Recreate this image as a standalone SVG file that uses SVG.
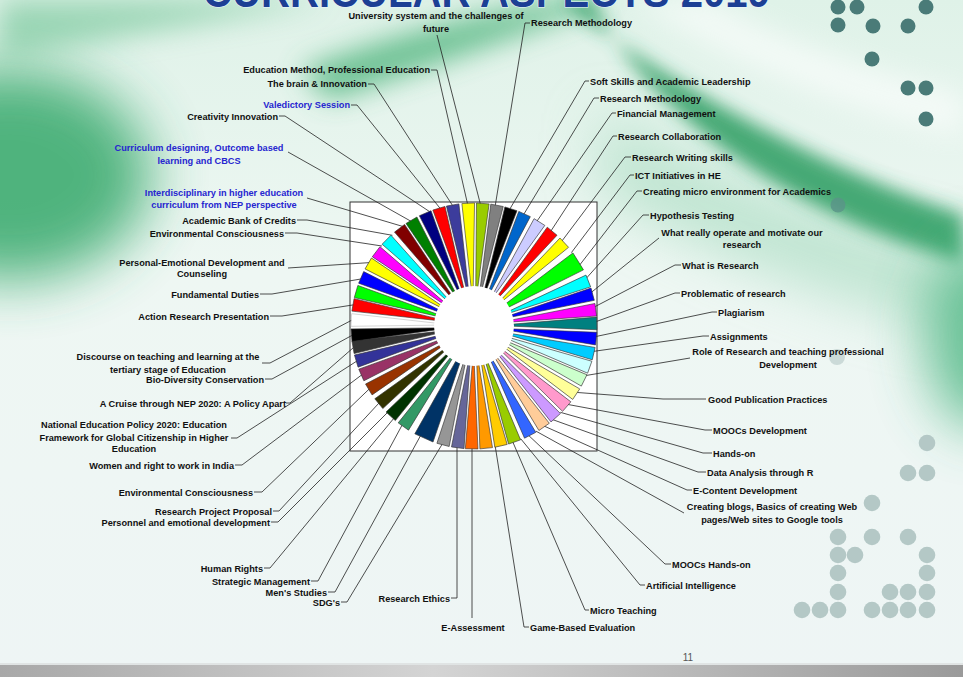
<svg xmlns="http://www.w3.org/2000/svg" xmlns:xlink="http://www.w3.org/1999/xlink" width="963" height="677" viewBox="0 0 963 677">
<style>
.t{font-family:"Liberation Sans",Arial,sans-serif;font-size:9.2px;font-weight:bold;fill:#111}
.b{fill:#2626d0}
.e{text-anchor:end}
.m{text-anchor:middle}
.dk{fill:#4a7b78}
.lt{fill:#b4c8c6}
#slices use{stroke:#333;stroke-width:0.6}
#connectors path{fill:none;stroke:#222;stroke-width:0.8}
</style>
<defs>
<linearGradient id="bg" x1="0" y1="0" x2="0" y2="1">
<stop offset="0" stop-color="#dff2e8"/>
<stop offset="0.4" stop-color="#eef7f3"/>
<stop offset="1" stop-color="#eef5f5"/>
</linearGradient>
<linearGradient id="bar" x1="0" y1="0" x2="1" y2="0">
<stop offset="0" stop-color="#a8a8a8"/>
<stop offset="0.45" stop-color="#d4d4d4"/>
<stop offset="1" stop-color="#9a9a9a"/>
</linearGradient>
<filter id="f1" x="-50%" y="-50%" width="200%" height="200%"><feGaussianBlur stdDeviation="28"/></filter>
<filter id="f2" x="-30%" y="-30%" width="160%" height="160%"><feGaussianBlur stdDeviation="9"/></filter>
<filter id="f3" x="-30%" y="-30%" width="160%" height="160%"><feGaussianBlur stdDeviation="14"/></filter>
<path id="w" d="M0,-22.3 L-6.33,-122.85 L6.33,-122.85 Z"/>
<path id="W" d="M0,-15.2 L-9.97,-122.6 L9.97,-122.6 Z"/>
</defs>

<g id="background">
<rect width="963" height="677" fill="url(#bg)"/>
<ellipse cx="10" cy="175" rx="140" ry="105" fill="#35a86a" opacity="0.85" filter="url(#f1)"/>
<path d="M0,0 L330,0 C220,20 100,40 0,60 Z" fill="#7fcaa0" opacity="0.7" filter="url(#f3)"/>
<path d="M300,70 C380,40 470,15 560,0 L610,0 C520,35 420,70 330,100 Z" fill="#4db47c" opacity="0.8" filter="url(#f3)"/>
<path d="M600,110 C700,170 820,220 963,250 L963,330 C820,300 700,250 600,190 Z" fill="#9fd8ba" opacity="0.6" filter="url(#f1)"/>
<path d="M560,0 C650,70 800,160 963,215 L963,262 C790,215 645,112 592,0 Z" fill="#2a9c60" opacity="0.85" filter="url(#f2)"/>
<path d="M630,0 C725,60 850,110 963,135 L963,95 C860,70 765,35 710,0 Z" fill="#ffffff" opacity="0.6" filter="url(#f3)"/>
<ellipse cx="985" cy="335" rx="60" ry="95" fill="#3db078" opacity="0.75" filter="url(#f1)"/>
<rect x="0" y="665" width="963" height="12" fill="url(#bar)"/>
<rect x="0" y="663" width="963" height="2" fill="#e0e4e4"/>
</g>

<g id="title">
<text x="203" y="6.5" textLength="567" lengthAdjust="spacingAndGlyphs" style="font-family:'Liberation Sans',Arial,sans-serif;font-size:44px;font-weight:bold;fill:#1c3f94;stroke:#eaf6ff;stroke-width:1.2;paint-order:stroke">CURRICULAR ASPECTS 2019</text>
</g>

<g id="dots">
<circle class="dk" cx="838" cy="7" r="7.5"/><circle class="dk" cx="857" cy="7" r="7.5"/><circle class="dk" cx="926" cy="7" r="7.5"/>
<circle class="dk" cx="838" cy="25" r="7.5"/><circle class="dk" cx="873" cy="26" r="7.5"/><circle class="dk" cx="908" cy="26" r="7.5"/>
<circle class="dk" cx="872" cy="59" r="7.5"/><circle class="dk" cx="908" cy="88" r="7.5"/><circle class="dk" cx="926" cy="88" r="7.5"/>
<circle class="dk" cx="926" cy="119" r="7.5"/>
<circle cx="838" cy="205" r="7.5" fill="#5a9488" opacity="0.8"/>
<circle cx="837" cy="357" r="8" fill="#cbdad8"/>
<circle class="lt" cx="927" cy="443" r="8.3"/>
<circle class="lt" cx="908" cy="473" r="8.3"/><circle class="lt" cx="927" cy="473" r="8.3"/>
<circle class="lt" cx="872" cy="503" r="8.3"/>
<circle class="lt" cx="838" cy="537" r="8.3"/><circle class="lt" cx="872" cy="537" r="8.3"/><circle class="lt" cx="908" cy="537" r="8.3"/>
<circle class="lt" cx="838" cy="555" r="8.3"/><circle class="lt" cx="855" cy="555" r="8.3"/><circle class="lt" cx="927" cy="555" r="8.3"/>
<circle class="lt" cx="838" cy="573" r="8.3"/><circle class="lt" cx="927" cy="573" r="8.3"/>
<circle class="lt" cx="838" cy="592" r="8.3"/><circle class="lt" cx="890" cy="592" r="8.3"/><circle class="lt" cx="908" cy="592" r="8.3"/><circle class="lt" cx="927" cy="592" r="8.3"/>
<circle class="lt" cx="802" cy="610" r="8.3"/><circle class="lt" cx="820" cy="610" r="8.3"/><circle class="lt" cx="838" cy="610" r="8.3"/>
<circle class="lt" cx="872" cy="610" r="8.3"/><circle class="lt" cx="890" cy="610" r="8.3"/><circle class="lt" cx="908" cy="610" r="8.3"/><circle class="lt" cx="927" cy="610" r="8.3"/>
</g>

<g id="chart-box">
<rect x="350" y="202" width="247" height="249" fill="#ffffff" stroke="#333" stroke-width="1"/>
</g>

<g id="connectors">
<path d="M431,70 H437 L467.6,204.2"/>
<path d="M368,84 H374 L452.8,205.9"/>
<path d="M351,105 H357 L440.4,208.7"/>
<path d="M279,116 H285 L430.3,212.1"/>
<path d="M288,152 L411.2,221.4"/>
<path d="M307,198 L403.3,226.6"/>
<path d="M297,220 H307 L392.4,235.3"/>
<path d="M285,233 H297 L381.9,246"/>
<path d="M288,268 L369.8,262.6"/>
<path d="M260,294 H272 L361.5,278.9"/>
<path d="M270,316 H282 L353.9,304.8"/>
<path d="M262,363 H270 L352.1,320"/>
<path d="M265,379 H272 L352.3,335.2"/>
<path d="M286,403 H290 L353.9,347.2"/>
<path d="M231,438 H237 L357.1,360.9"/>
<path d="M235,465 H242 L362.1,374.6"/>
<path d="M254,492 H262 L369.4,388.8"/>
<path d="M273,511 H279 L379.2,402.8"/>
<path d="M271,522 H278 L387.7,412.3"/>
<path d="M264,568 H270 L394,418.1"/>
<path d="M311,581 H318 L402.3,424.7"/>
<path d="M328,592 H335 L420.5,435.7"/>
<path d="M341,602 H347 L442.4,443.8"/>
<path d="M451,598 H457 V446.8"/>
<path d="M472,618 V448"/>
<path d="M529,627 H524 L495.2,446.1"/>
<path d="M589,610 H585 L512.7,441.7"/>
<path d="M645,585 H640 L520.7,438.7"/>
<path d="M671,564 H665 L528.4,435.2"/>
<path d="M684,513 L535.9,431.1"/>
<path d="M692,490 H687 L544,426"/>
<path d="M706,472 H698 L552.4,419.5"/>
<path d="M712,453 H703 L560.3,412.3"/>
<path d="M712,430 H705 L567.5,404.4"/>
<path d="M706,399 H663 L576.3,392.4"/>
<path d="M690,358 L585.4,375.6"/>
<path d="M709,336 H703 L593.3,351.4"/>
<path d="M717,312 H712 L595.5,336.6"/>
<path d="M680,293 H675 L595.9,321.7"/>
<path d="M681,265 H675 L594.5,306.9"/>
<path d="M659,238 L591.3,292.4"/>
<path d="M649,215 H643 L586.3,278.3"/>
<path d="M642,191 H637 L579.7,265"/>
<path d="M634,175 H630 L571.4,252.6"/>
<path d="M631,157 H625 L561.8,241.2"/>
<path d="M617,136 H613 L550.8,231.2"/>
<path d="M616,113 H612 L536.8,221.4"/>
<path d="M599,98 H594 L523.6,214.6"/>
<path d="M589,81 H585 L509.7,209.3"/>
<path d="M530,23 H525 L495.2,205.9"/>
<path d="M437,35 L480.4,204.2"/>
</g>

<g id="slices" transform="translate(474 326)">
<use href="#w" transform="rotate(-2.7)" fill="#ffff00"/>
<use href="#w" transform="rotate(4.1)" fill="#99cc00"/>
<use href="#w" transform="rotate(10.8)" fill="#808080"/>
<use href="#w" transform="rotate(17.5)" fill="#000000"/>
<use href="#w" transform="rotate(24.3)" fill="#0066cc"/>
<use href="#w" transform="rotate(32.2)" fill="#ccccff"/>
<use href="#w" transform="rotate(39.5)" fill="#ff0000"/>
<use href="#w" transform="rotate(47.3)" fill="#ffff00"/>
<use href="#W" transform="rotate(58.2)" fill="#00ff00"/>
<use href="#w" transform="rotate(68.5)" fill="#00ffff"/>
<use href="#w" transform="rotate(75)" fill="#0000ff"/>
<use href="#w" transform="rotate(82.4)" fill="#ff00ff"/>
<use href="#w" transform="rotate(88.8)" fill="#008080"/>
<use href="#w" transform="rotate(95.9)" fill="#0000ff"/>
<use href="#w" transform="rotate(103)" fill="#00ccff"/>
<use href="#w" transform="rotate(109.6)" fill="#ccffff"/>
<use href="#w" transform="rotate(116.3)" fill="#ccffcc"/>
<use href="#w" transform="rotate(123.7)" fill="#ffff99"/>
<use href="#w" transform="rotate(131)" fill="#ff99cc"/>
<use href="#w" transform="rotate(138.3)" fill="#cc99ff"/>
<use href="#w" transform="rotate(145.2)" fill="#ffcc99"/>
<use href="#w" transform="rotate(152.8)" fill="#3366ff"/>
<use href="#w" transform="rotate(160.7)" fill="#99cc00"/>
<use href="#w" transform="rotate(167.3)" fill="#ffcc00"/>
<use href="#w" transform="rotate(174.3)" fill="#ff9900"/>
<use href="#w" transform="rotate(181.1)" fill="#ff6600"/>
<use href="#w" transform="rotate(187.6)" fill="#666699"/>
<use href="#w" transform="rotate(194.6)" fill="#969696"/>
<use href="#W" transform="rotate(204.1)" fill="#003366"/>
<use href="#w" transform="rotate(215.1)" fill="#339966"/>
<use href="#w" transform="rotate(222.7)" fill="#003300"/>
<use href="#w" transform="rotate(230.8)" fill="#333300"/>
<use href="#w" transform="rotate(238.9)" fill="#993300"/>
<use href="#w" transform="rotate(246.5)" fill="#993366"/>
<use href="#w" transform="rotate(253.4)" fill="#333399"/>
<use href="#w" transform="rotate(260)" fill="#333333"/>
<use href="#w" transform="rotate(265.7)" fill="#000000"/>
<use href="#w" transform="rotate(272.8)" fill="#ffffff" style="stroke:#bbb"/>
<use href="#w" transform="rotate(279.9)" fill="#ff0000"/>
<use href="#w" transform="rotate(286.3)" fill="#00ff00"/>
<use href="#w" transform="rotate(293.3)" fill="#0000ff"/>
<use href="#w" transform="rotate(300.6)" fill="#ffff00"/>
<use href="#w" transform="rotate(307.2)" fill="#ff00ff"/>
<use href="#w" transform="rotate(314.6)" fill="#00ffff"/>
<use href="#w" transform="rotate(322.7)" fill="#800000"/>
<use href="#w" transform="rotate(329.4)" fill="#008000"/>
<use href="#w" transform="rotate(336.6)" fill="#000080"/>
<use href="#w" transform="rotate(343.4)" fill="#ff0000"/>
<use href="#w" transform="rotate(350)" fill="#3c3c9c"/>
<circle cx="0" cy="0" r="40" fill="#ffffff"/>
</g>

<g id="labels-left">
<g id="n-edu-method"><text class="t e" x="430" y="73.2">Education Method, Professional Education</text></g>
<g id="n-brain"><text class="t e" x="367" y="87">The brain &amp; Innovation</text></g>
<g id="n-valedictory"><text class="t e b" x="350" y="108">Valedictory Session</text></g>
<g id="n-creativity"><text class="t e" x="278" y="119.5">Creativity Innovation</text></g>
<g id="n-curriculum"><text class="t m b" x="199" y="150.5">Curriculum designing, Outcome based</text><text class="t m b" x="199" y="163.5">learning and CBCS</text></g>
<g id="n-interdisciplinary"><text class="t m b" x="224" y="196">Interdisciplinary in higher education</text><text class="t m b" x="224" y="207.5">curriculum from NEP perspective</text></g>
<g id="n-abc"><text class="t e" x="296" y="223.5">Academic Bank of Credits</text></g>
<g id="n-env1"><text class="t e" x="284" y="236.5">Environmental Consciousness</text></g>
<g id="n-personal"><text class="t m" x="202" y="265.5">Personal-Emotional Development and</text><text class="t m" x="202" y="276.5">Counseling</text></g>
<g id="n-fundamental"><text class="t e" x="259" y="297.5">Fundamental Duties</text></g>
<g id="n-action"><text class="t e" x="269" y="319.5">Action Research Presentation</text></g>
<g id="n-discourse"><text class="t m" x="168" y="360">Discourse on teaching and learning at the</text><text class="t m" x="168" y="372.5">tertiary stage of Education</text></g>
<g id="n-bio"><text class="t e" x="264" y="382.5">Bio-Diversity Conservation</text></g>
<g id="n-cruise"><text class="t e" x="286" y="406.5">A Cruise through NEP 2020: A Policy Apart</text></g>
<g id="n-nep"><text class="t m" x="134" y="428">National Education Policy 2020: Education</text><text class="t m" x="134" y="440.5">Framework for Global Citizenship in Higher</text><text class="t m" x="134" y="452">Education</text></g>
<g id="n-women"><text class="t e" x="234" y="468.5">Women and right to work in India</text></g>
<g id="n-env2"><text class="t e" x="253" y="495.5">Environmental Consciousness</text></g>
<g id="n-rpp"><text class="t e" x="272" y="514.5">Research Project Proposal</text></g>
<g id="n-personnel"><text class="t e" x="270" y="525.5">Personnel and emotional development</text></g>
<g id="n-human"><text class="t e" x="263" y="571.5">Human Rights</text></g>
<g id="n-strategic"><text class="t e" x="310" y="585">Strategic Management</text></g>
<g id="n-mens"><text class="t e" x="327" y="595.5">Men's Studies</text></g>
<g id="n-sdg"><text class="t e" x="340" y="605.5">SDG's</text></g>
<g id="n-ethics"><text class="t e" x="450" y="601.5">Research Ethics</text></g>
<g id="n-eassess"><text class="t m" x="473" y="630.5">E-Assessment</text></g>
</g>

<g id="labels-right">
<g id="n-game"><text class="t" x="530" y="630.5">Game-Based Evaluation</text></g>
<g id="n-micro"><text class="t" x="590" y="613.5">Micro Teaching</text></g>
<g id="n-ai"><text class="t" x="646" y="588.5">Artificial Intelligence</text></g>
<g id="n-mooc-ho"><text class="t" x="672" y="567.5">MOOCs Hands-on</text></g>
<g id="n-blogs"><text class="t m" x="772" y="510">Creating blogs, Basics of creating Web</text><text class="t m" x="772" y="522.5">pages/Web sites to Google tools</text></g>
<g id="n-econtent"><text class="t" x="693" y="493.5">E-Content Development</text></g>
<g id="n-data"><text class="t" x="707" y="475.5">Data Analysis through R</text></g>
<g id="n-handson"><text class="t" x="713" y="456.5">Hands-on</text></g>
<g id="n-mooc-dev"><text class="t" x="713" y="433.5">MOOCs Development</text></g>
<g id="n-goodpub"><text class="t" x="708" y="402.5">Good Publication Practices</text></g>
<g id="n-role"><text class="t m" x="788" y="355">Role of Research and teaching professional</text><text class="t m" x="788" y="367.5">Development</text></g>
<g id="n-assign"><text class="t" x="710" y="339.5">Assignments</text></g>
<g id="n-plag"><text class="t" x="718" y="315.5">Plagiarism</text></g>
<g id="n-problem"><text class="t" x="681" y="296.5">Problematic of research</text></g>
<g id="n-whatis"><text class="t" x="682" y="268.5">What is Research</text></g>
<g id="n-whatreally"><text class="t m" x="742" y="236">What really operate and motivate our</text><text class="t m" x="742" y="247.5">research</text></g>
<g id="n-hypo"><text class="t" x="650" y="218.5">Hypothesis Testing</text></g>
<g id="n-micro-env"><text class="t" x="643" y="194.5">Creating micro environment for Academics</text></g>
<g id="n-ict"><text class="t" x="635" y="178.5">ICT Initiatives in HE</text></g>
<g id="n-rwriting"><text class="t" x="632" y="160.5">Research Writing skills</text></g>
<g id="n-rcollab"><text class="t" x="618" y="139.5">Research Collaboration</text></g>
<g id="n-fin"><text class="t" x="617" y="116.5">Financial Management</text></g>
<g id="n-rm2"><text class="t" x="600" y="101.5">Research Methodology</text></g>
<g id="n-soft"><text class="t" x="590" y="84.5">Soft Skills and Academic Leadership</text></g>
<g id="n-rm1"><text class="t" x="531" y="26">Research Methodology</text></g>
<g id="n-university"><text class="t m" x="436" y="18.5">University system and the challenges of</text><text class="t m" x="436" y="31.5">future</text></g>
</g>

<g id="footer">
<text x="688" y="661" style="font-family:'Liberation Sans',Arial,sans-serif;font-size:10px;fill:#555;text-anchor:middle">11</text>
</g>
</svg>
